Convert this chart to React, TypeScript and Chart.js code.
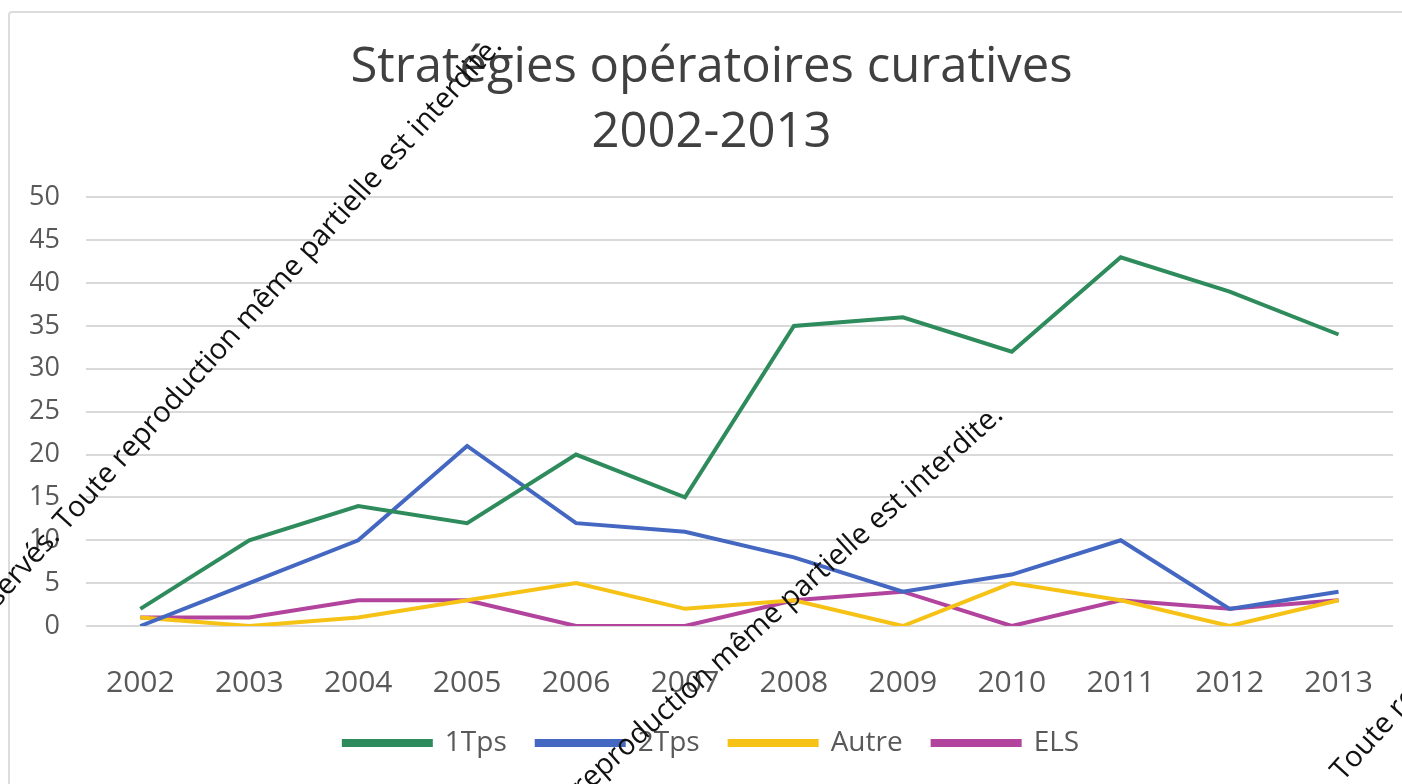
import React, { useEffect, useRef } from "react";
import { Chart, registerables } from "chart.js";

Chart.register(...registerables);

const years = ["2002", "2003", "2004", "2005", "2006", "2007", "2008", "2009", "2010", "2011", "2012", "2013"];
const seriesNames = ["1Tps", "2Tps", "Autre", "ELS"];
const tps1 = [2, 10, 14, 12, 20, 15, 35, 36, 32, 43, 39, 34];
const tps2 = [0, 5, 10, 21, 12, 11, 8, 4, 6, 10, 2, 4];
const autre = [1, 0, 1, 3, 5, 2, 3, 0, 5, 3, 0, 3];
const els = [1, 1, 3, 3, 0, 0, 3, 4, 0, 3, 2, 3];
const seriesColors = ["#2E8B5C", "#4468C2", "#F6C216", "#B2449E"];
const titleLines = ["Stratégies opératoires curatives", "2002-2013"];
const watermarkPrefix = "© Tous droits réservés. ";
const watermarkMain = "Toute reproduction même partielle est interdite.";

const FONT = "'Open Sans', 'DejaVu Sans', sans-serif";

const watermarkPlugin = {
  id: "watermark",
  afterDraw(chart: any) {
    const ctx = chart.ctx;
    const marks = [
      { x: 66, y: 532, a: -48 },
      { x: 519, y: 854, a: -42 },
      { x: 1343, y: 782, a: -48 },
    ];
    ctx.save();
    ctx.font = `29px ${FONT}`;
    ctx.fillStyle = "#111111";
    ctx.textBaseline = "alphabetic";
    for (const m of marks) {
      ctx.save();
      ctx.translate(m.x, m.y);
      ctx.rotate((m.a * Math.PI) / 180);
      ctx.textAlign = "right";
      ctx.fillText(watermarkPrefix, 0, 0);
      ctx.textAlign = "left";
      ctx.fillText(watermarkMain, 0, 0);
      ctx.restore();
    }
    ctx.restore();
  },
};

export default function App() {
  const canvasRef = useRef<HTMLCanvasElement | null>(null);

  useEffect(() => {
    const datasetsValues = [tps1, tps2, autre, els];
    const chart = new Chart(canvasRef.current as HTMLCanvasElement, {
      type: "line",
      data: {
        labels: years,
        datasets: seriesNames.map((name, i) => ({
          label: name,
          data: datasetsValues[i],
          borderColor: seriesColors[i],
          backgroundColor: seriesColors[i],
          borderWidth: 4,
          pointRadius: 0,
          tension: 0,
          fill: false,
        })),
      },
      options: {
        responsive: false,
        animation: false,
        layout: { padding: { left: 30, right: 9, top: 0, bottom: 17 } },
        plugins: {
          title: {
            display: true,
            text: titleLines,
            color: "#404040",
            font: { family: FONT, size: 49, weight: "normal", lineHeight: 1.33 },
            padding: { top: 35, bottom: 32 },
          },
          legend: {
            position: "bottom",
            labels: {
              boxWidth: 87,
              boxHeight: 4,
              padding: 30,
              color: "#595959",
              font: { family: FONT, size: 28 },
            },
          },
          tooltip: { enabled: false },
        },
        scales: {
          x: {
            offset: true,
            grid: { display: false, drawTicks: false },
            border: { display: false },
            ticks: {
              color: "#595959",
              font: { family: FONT, size: 30 },
              padding: 39,
              maxRotation: 0,
            },
            afterFit: (scale: any) => {
              scale.height -= 41;
              scale.paddingLeft = 0;
              scale.paddingRight = 0;
            },
          },
          y: {
            min: 0,
            max: 50,
            grid: { color: "#d9d9d9", lineWidth: 2, drawTicks: false },
            border: { display: false },
            ticks: {
              stepSize: 5,
              color: "#595959",
              font: { family: FONT, size: 27 },
              padding: 26,
            },
            afterFit: (scale: any) => {
              scale.width -= 27;
            },
          },
        },
      },
      plugins: [watermarkPlugin],
    });
    return () => chart.destroy();
  }, []);

  return (
    <div
      style={{
        position: "fixed",
        left: 0,
        top: 0,
        width: 1402,
        height: 784,
        overflow: "hidden",
        background: "#ffffff",
      }}
    >
      <div
        style={{
          position: "absolute",
          left: 8,
          top: 11,
          width: 1500,
          height: 900,
          border: "2px solid #dcdcdc",
          borderRadius: 4,
        }}
      />
      <canvas
        ref={canvasRef}
        width={1402}
        height={784}
        style={{ position: "absolute", left: 0, top: 0, width: 1402, height: 784 }}
      />
    </div>
  );
}
